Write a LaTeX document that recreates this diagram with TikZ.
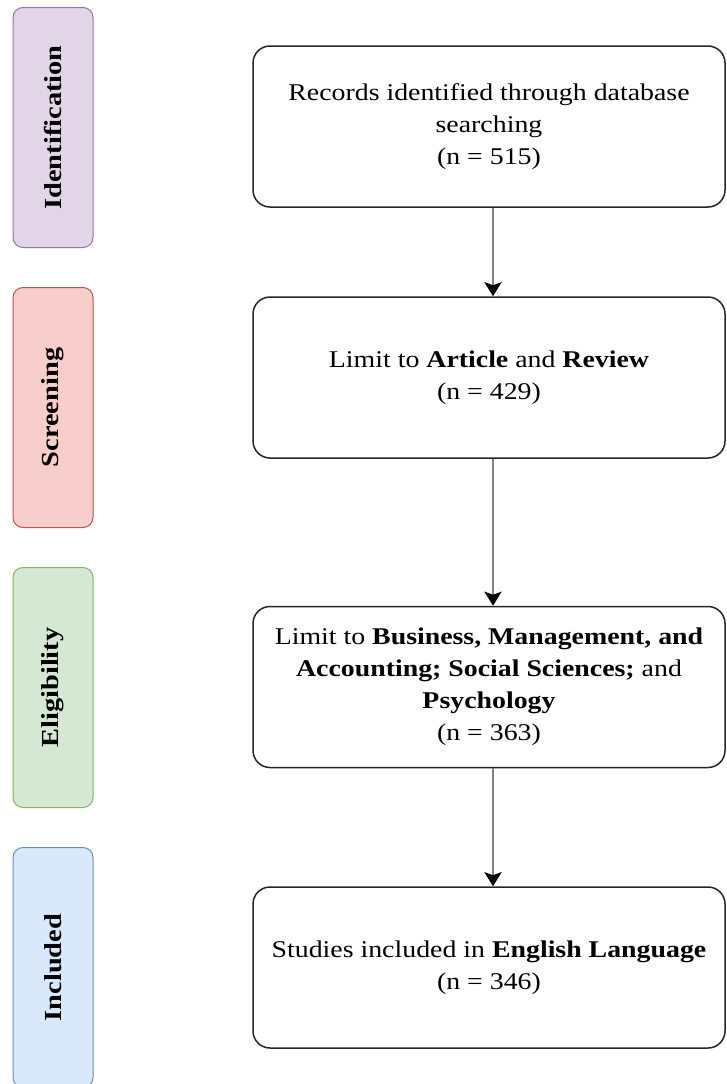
\documentclass[tikz,border=0pt]{standalone}
\usepackage{fontspec}
\setmainfont{Liberation Serif}[FakeStretch=1.16]
\usetikzlibrary{arrows.meta}
\definecolor{idfill}{HTML}{E1D5E7}\definecolor{iddraw}{HTML}{9673A6}
\definecolor{scfill}{HTML}{F8CECC}\definecolor{scdraw}{HTML}{B85450}
\definecolor{elfill}{HTML}{D5E8D4}\definecolor{eldraw}{HTML}{82B366}
\definecolor{infill}{HTML}{DAE8FC}\definecolor{indraw}{HTML}{6C8EBF}
\tikzset{
  x=1pt,y=-1pt,
  phase/.style={draw, line width=1pt, rounded corners=10pt, minimum width=80pt, minimum height=240pt, inner sep=0pt},
  phaselabel/.style={rotate=90, font=\fontsize{24.5}{28}\selectfont\bfseries},
  stepbox/.style={draw=black!85, line width=1.5pt, rounded corners=17pt, minimum width=472pt, minimum height=161pt, align=center, inner sep=2pt, font=\fontsize{24}{32}\selectfont},
  flow/.style={draw=black!50, line width=2.8pt, -{Stealth[length=14pt,width=17pt,inset=3pt,color=black]}}
}
\begin{document}
\begin{tikzpicture}
\useasboundingbox (0,0) rectangle (726,1084);
\node[phase, fill=idfill, draw=iddraw] (p1) at (53,127.5) {};
\node[phaselabel] at (p1) {Identification};
\node[phase, fill=scfill, draw=scdraw] (p2) at (53,407.5) {};
\node[phaselabel] at (p2) {Screening};
\node[phase, fill=elfill, draw=eldraw] (p3) at (53,687.5) {};
\node[phaselabel] at (p3) {Eligibility};
\node[phase, fill=infill, draw=indraw] (p4) at (53,967.5) {};
\node[phaselabel] at (p4) {Included};

\node[stepbox] (b1) at (489,126.5) {Records identified through database\\searching\\(n = 515)};
\node[stepbox] (b2) at (489,377.5) {Limit to \textbf{Article} and \textbf{Review}\\(n = 429)};
\node[stepbox] (b3) at (489,687) {Limit to \textbf{Business, Management, and}\\\textbf{Accounting; Social Sciences;} and\\\textbf{Psychology}\\(n = 363)};
\node[stepbox] (b4) at (489,967.5) {Studies included in \textbf{English Language}\\(n = 346)};

\draw[flow] (b1.south -| 493,0) -- (b2.north -| 493,0);
\draw[flow] (b2.south -| 493,0) -- (b3.north -| 493,0);
\draw[flow] (b3.south -| 493,0) -- (b4.north -| 493,0);
\end{tikzpicture}
\end{document}
